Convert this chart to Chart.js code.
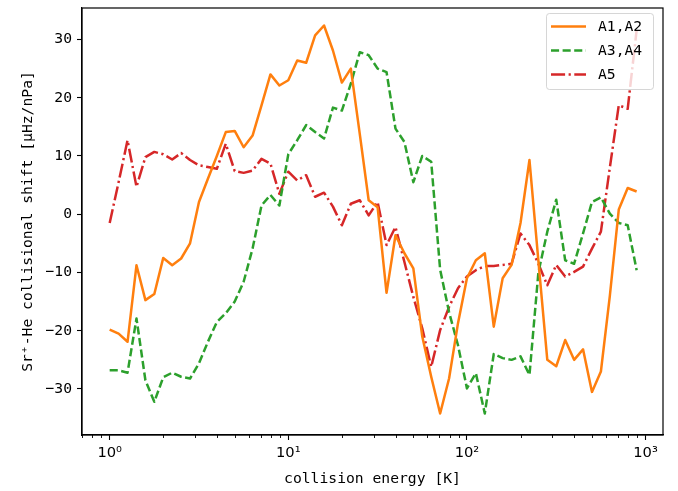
<!DOCTYPE html>
<html><head><meta charset="utf-8">
<script src="https://cdn.jsdelivr.net/npm/chart.js@4.4.0/dist/chart.umd.min.js"></script>
<style>html,body{margin:0;padding:0;background:#fff;}#wrap{width:678px;height:491px;}</style>
</head><body><div id="wrap"><canvas id="c" width="678" height="491"></canvas></div>
<script>
// ---- data ----
const energies = [1.000,1.122,1.259,1.413,1.585,1.778,1.995,2.239,2.512,2.818,
  3.162,3.548,3.981,4.467,5.012,5.623,6.310,7.079,7.943,8.913,
  10.00,11.22,12.59,14.13,15.85,17.78,19.95,22.39,25.12,28.18,
  31.62,35.48,39.81,44.67,50.12,56.23,63.10,70.79,79.43,89.13,
  100.0,112.2,125.9,141.3,158.5,177.8,199.5,223.9,251.2,281.8,
  316.2,354.8,398.1,446.7,501.2,562.3,631.0,707.9,794.3,891.3];
const shiftA12 = [-19.8,-20.5,-21.9,-8.75,-14.75,-13.7,-7.5,-8.75,-7.6,-5.0,
  2.1,6.1,10.0,14.1,14.3,11.5,13.5,18.7,24.0,22.1,
  23.0,26.4,26.0,30.7,32.4,28.1,22.6,25.0,13.8,2.4,
  1.2,-13.5,-3.6,-6.7,-9.3,-21.0,-27.9,-34.2,-28.2,-18.7,
  -11.0,-7.9,-6.7,-19.3,-11.0,-8.7,-1.5,9.3,-8.0,-25.0,
  -26.1,-21.6,-25.0,-23.2,-30.5,-27.0,-14.0,0.8,4.5,3.9];
const shiftA34 = [-26.8,-26.8,-27.2,-17.9,-28.5,-32.2,-28.0,-27.2,-27.9,-28.2,
  -25.6,-21.9,-18.5,-17.0,-15.0,-11.6,-5.9,1.5,3.3,1.5,
  10.3,12.7,15.3,14.1,13.0,18.3,17.8,22.4,27.8,27.3,
  25.0,24.4,14.7,12.4,5.5,10.0,9.0,-9.5,-16.8,-22.5,
  -29.9,-27.3,-34.2,-24.0,-24.7,-25.0,-24.4,-27.6,-10.0,-3.0,
  2.5,-7.9,-8.5,-3.3,2.1,2.9,0.1,-1.5,-1.9,-9.6];
const shiftA5 = [-1.5,5.5,12.7,4.7,9.8,10.7,10.3,9.4,10.5,9.3,
  8.4,8.1,7.8,12.1,7.4,7.1,7.5,9.5,8.7,3.5,
  7.3,5.8,6.7,3.0,3.7,1.3,-1.9,1.8,2.4,-0.2,
  2.1,-5.3,-2.2,-8.2,-14.2,-19.6,-26.2,-19.9,-15.9,-12.7,
  -10.7,-9.6,-8.9,-8.9,-8.7,-8.5,-3.3,-5.3,-8.5,-12.2,
  -8.7,-10.7,-9.9,-9.0,-5.9,-3.0,8.0,18.7,18.1,31.6];
const seriesLabels = ['A1,A2','A3,A4','A5'];
const xTickValues = [1,10,100,1000];
const xTickLabels = ['10\u2070','10\u00b9','10\u00b2','10\u00b3'];
const yTickValues = [-30,-20,-10,0,10,20,30];

const MONO = '"DejaVu Sans Mono", monospace';
const SANS = '"DejaVu Sans", sans-serif';
const FS = 14.7;
const LW = 2.5;

function pts(ys){ return energies.map((x,i)=>({x:x, y:ys[i]})); }

const frameAndMinor = {
  id:'frameAndMinor',
  afterDraw(chart){
    const ctx = chart.ctx, a = chart.chartArea, xs = chart.scales.x;
    ctx.save();
    ctx.strokeStyle = '#000'; ctx.lineWidth = 0.9;
    for (let d=-1; d<=3; d++){
      for (let k=2; k<=9; k++){
        const v = k*Math.pow(10,d);
        if (v < xs.min || v > xs.max) continue;
        const px = Math.round(xs.getPixelForValue(v))+0.5;
        ctx.beginPath(); ctx.moveTo(px, a.bottom); ctx.lineTo(px, a.bottom+3); ctx.stroke();
      }
    }
    ctx.lineWidth = 1.2;
    ctx.strokeRect(a.left, a.top, a.right-a.left, a.bottom-a.top);
    ctx.restore();
  }
};

const boxLegend = {
  id:'boxLegend',
  afterDatasetsDraw(chart){
    const ctx = chart.ctx, a = chart.chartArea;
    const w = 107, h = 76;
    const L = a.right - 10 - w, T = a.top + 5;
    ctx.save();
    ctx.beginPath();
    if (ctx.roundRect) ctx.roundRect(L+0.5, T+0.5, w, h, 3); else ctx.rect(L+0.5,T+0.5,w,h);
    ctx.fillStyle = 'rgba(255,255,255,0.8)'; ctx.fill();
    ctx.strokeStyle = 'rgba(204,204,204,0.8)'; ctx.lineWidth = 1; ctx.stroke();
    chart.data.datasets.forEach((ds, i) => {
      const cy = T + 13.5 + i*24;
      ctx.beginPath();
      ctx.setLineDash(ds.borderDash || []);
      ctx.strokeStyle = ds.borderColor; ctx.lineWidth = ds.borderWidth;
      ctx.lineCap = 'butt';
      ctx.moveTo(L+5, cy); ctx.lineTo(L+40, cy); ctx.stroke();
      ctx.setLineDash([]);
      ctx.fillStyle = '#000'; ctx.font = FS + 'px ' + MONO;
      ctx.textBaseline = 'middle'; ctx.textAlign = 'left';
      ctx.fillText(ds.label, L+52, cy+1);
    });
    ctx.restore();
  }
};

new Chart(document.getElementById('c'), {
  type:'line',
  data:{ datasets:[
    {label:seriesLabels[0], data:pts(shiftA12), borderColor:'#ff7f0e', borderWidth:LW, borderDash:[], fill:false},
    {label:seriesLabels[1], data:pts(shiftA34), borderColor:'#2ca02c', borderWidth:LW, borderDash:[8.1,3.5], fill:false},
    {label:seriesLabels[2], data:pts(shiftA5), borderColor:'#d62728', borderWidth:LW, borderDash:[14.1,3.5,2.2,3.5], fill:false}
  ]},
  options:{
    responsive:false, animation:false, devicePixelRatio:1,
    layout:{padding:{top:8,right:15,left:0,bottom:0}},
    elements:{point:{radius:0,hoverRadius:0}, line:{tension:0, borderJoinStyle:'round', borderCapStyle:'butt'}},
    plugins:{legend:{display:false}, tooltip:{enabled:false}},
    events:[],
    scales:{
      x:{
        type:'logarithmic', min:0.708, max:1252,
        afterBuildTicks(s){ s.ticks = xTickValues.map(v=>({value:v, major:true})); },
        afterFit(s){ s.height = 56; s.paddingLeft = 0; s.paddingRight = 0; },
        ticks:{ autoSkip:false, maxRotation:0, minRotation:0, color:'#000', padding:4,
          font:{family:SANS, size:FS},
          callback(v){ const i = xTickValues.indexOf(v); return i>=0 ? xTickLabels[i] : ''; } },
        grid:{ drawOnChartArea:false, drawTicks:true, tickLength:5, tickColor:'#000', tickWidth:1.1 },
        border:{ display:true, color:'#000', width:1.2 },
        title:{ display:true, text:'collision energy [K]', color:'#000', font:{family:MONO, size:FS}, padding:{top:0,bottom:3} }
      },
      y:{
        type:'linear', min:-37.9, max:35.4,
        afterBuildTicks(s){ s.ticks = yTickValues.map(v=>({value:v})); },
        afterFit(s){ s.width = 82; s.paddingTop = 0; s.paddingBottom = 0; },
        ticks:{ autoSkip:false, color:'#000', padding:5, font:{family:MONO, size:FS},
          callback(v){ return v<0 ? '\u2212'+Math.abs(v) : String(v); } },
        grid:{ drawOnChartArea:false, drawTicks:true, tickLength:5, tickColor:'#000', tickWidth:1.1 },
        border:{ display:true, color:'#000', width:1.2 },
        title:{ display:true, text:'Sr\u207a-He collisional shift [\u03bcHz/nPa]', color:'#000', font:{family:MONO, size:FS}, padding:{top:19,bottom:0} }
      }
    }
  },
  plugins:[boxLegend, frameAndMinor]
});
</script></body></html>
